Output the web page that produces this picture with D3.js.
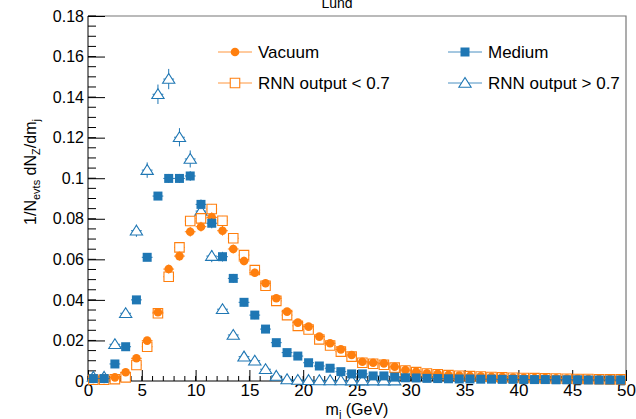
<!DOCTYPE html>
<html>
  <head>
    <script src="https://d3js.org/d3.v7.min.js"></script>
    <style>
      body { margin: 0; background: #fff; }
      text { font-family: "Liberation Sans", Arial, Helvetica, sans-serif; }
    </style>
  </head>
  <body>
    <svg id="chart" width="636" height="419"></svg>

    <script>
      // bin centres of m_j in GeV (1 GeV bins)
      const binCentres = [0.5, 1.5, 2.5, 3.5, 4.5, 5.5, 6.5, 7.5, 8.5, 9.5,
        10.5, 11.5, 12.5, 13.5, 14.5, 15.5, 16.5, 17.5, 18.5, 19.5,
        20.5, 21.5, 22.5, 23.5, 24.5, 25.5, 26.5, 27.5, 28.5, 29.5,
        30.5, 31.5, 32.5, 33.5, 34.5, 35.5, 36.5, 37.5, 38.5, 39.5,
        40.5, 41.5, 42.5, 43.5, 44.5, 45.5, 46.5, 47.5, 48.5, 49.5];

      const vacuum = [0.001, 0.001, 0.0018, 0.0043, 0.0112, 0.0199, 0.0339, 0.0552, 0.0616, 0.0736,
        0.0761, 0.0807, 0.0741, 0.0651, 0.0592, 0.0534, 0.0482, 0.0408, 0.0342, 0.0288,
        0.0268, 0.0219, 0.0186, 0.0156, 0.0128, 0.0095, 0.009, 0.0087, 0.007, 0.0054,
        0.0046, 0.0038, 0.0035, 0.003, 0.0027, 0.0025, 0.0023, 0.0021, 0.0019, 0.0017,
        0.0016, 0.0015, 0.0014, 0.0013, 0.0012, 0.0011, 0.001, 0.001, 0.0009, 0.0008];

      const medium = [0.0012, 0.0012, 0.0084, 0.0169, 0.040, 0.061, 0.0912, 0.0999, 0.0999, 0.1011,
        0.0871, 0.0778, 0.0613, 0.0506, 0.0388, 0.0325, 0.0256, 0.0189, 0.014, 0.0123,
        0.009, 0.0074, 0.0063, 0.0046, 0.0035, 0.0035, 0.0025, 0.0025, 0.0019, 0.0016,
        0.0015, 0.0013, 0.0012, 0.0011, 0.001, 0.001, 0.0009, 0.0009, 0.0008, 0.0008,
        0.0007, 0.0007, 0.0007, 0.0006, 0.0006, 0.0006, 0.0005, 0.0005, 0.0005, 0.0005];

      const rnnLow = [0.0006, 0.0006, 0.0009, 0.0018, 0.0079, 0.0169, 0.0334, 0.0514, 0.0659, 0.0789,
        0.0802, 0.0848, 0.079, 0.0704, 0.0621, 0.0547, 0.047, 0.0395, 0.0325, 0.0272,
        0.0254, 0.0205, 0.0175, 0.0145, 0.012, 0.009, 0.0085, 0.008, 0.0066, 0.0052,
        0.0044, 0.0037, 0.0033, 0.0029, 0.0026, 0.0024, 0.0022, 0.002, 0.0018, 0.0016,
        0.0015, 0.0014, 0.0013, 0.0012, 0.0011, 0.001, 0.001, 0.0009, 0.0008, 0.0008];

      const rnnHigh = [0.002, 0.002, 0.0181, 0.0334, 0.0741, 0.104, 0.1414, 0.1489, 0.1202, 0.1095,
        0.0838, 0.0616, 0.0354, 0.0227, 0.012, 0.01, 0.0058, 0.0025, 0.0008, 0.0005,
        0.0004, 0.0003, 0.0003, 0.0003, 0.0002, 0.0002, 0.0002, 0.0002, 0.0002, 0,
        0, 0, 0, 0, 0, 0, 0, 0, 0, 0,
        0, 0, 0, 0, 0, 0, 0, 0, 0, 0];

      // statistical errors (half heights)
      const vacuumErr = [0.0004, 0.0004, 0.0006, 0.0008, 0.0012, 0.0015, 0.0018, 0.0022, 0.0022, 0.0024,
        0.0024, 0.0025, 0.0024, 0.0022, 0.0021, 0.002, 0.0019, 0.0018, 0.0016, 0.0015,
        0.0014, 0.0013, 0.0012, 0.0011, 0.001, 0.0009, 0.0009, 0.0008, 0.0008, 0.0007,
        0.0007, 0.0006, 0.0006, 0.0006, 0.0005, 0.0005, 0.0005, 0.0005, 0.0004, 0.0004,
        0.0004, 0.0004, 0.0004, 0.0003, 0.0003, 0.0003, 0.0003, 0.0003, 0.0003, 0.0003];
      const mediumErr = vacuumErr;
      const rnnLowErr = vacuumErr;
      const rnnHighErr = [0.0015, 0.0015, 0.002, 0.0022, 0.003, 0.0038, 0.0048, 0.005, 0.0045, 0.0042,
        0.0038, 0.003, 0.0022, 0.0018, 0.0014, 0.0013, 0.001, 0.0007, 0.0004, 0.0003,
        0.0003, 0.0003, 0.0003, 0.0003, 0.0002, 0.0002, 0.0002, 0.0002, 0.0002, 0,
        0, 0, 0, 0, 0, 0, 0, 0, 0, 0,
        0, 0, 0, 0, 0, 0, 0, 0, 0, 0];

      const xTicks = [0, 5, 10, 15, 20, 25, 30, 35, 40, 45, 50];
      const yTicks = [0, 0.02, 0.04, 0.06, 0.08, 0.1, 0.12, 0.14, 0.16, 0.18];
      const yTickLabels = ["0", "0.02", "0.04", "0.06", "0.08", "0.1", "0.12", "0.14", "0.16", "0.18"];

      const orange = "#ff7f0e";
      const blue = "#1f77b4";

      var svg = d3.select("#chart");
      var padL = 88, padR = 626, padT = 16, padB = 381;

      var x = d3.scaleLinear().domain([0, 50]).range([padL, padR]);
      var y = d3.scaleLinear().domain([0, 0.18]).range([padB, padT]);

      // frame (top + right, grey)
      svg.append("path")
        .attr("d", "M" + padL + "," + padT + "H" + padR + "V" + padB)
        .attr("fill", "none")
        .attr("stroke", "#777")
        .attr("stroke-width", 1.2);

      // y axis, ticks pointing in
      var yAxis = d3.axisLeft(y)
        .tickValues(yTicks)
        .tickSize(-17)
        .tickFormat(function(d, i) { return yTickLabels[i]; });
      var gy = svg.append("g").attr("transform", "translate(" + padL + ",0)").call(yAxis);
      gy.selectAll("text").attr("x", -4).attr("font-size", 16).attr("fill", "#000")
        .style("font-family", "'Liberation Sans', Arial, sans-serif");
      gy.selectAll("line").attr("stroke", "#000");
      gy.select(".domain").attr("stroke", "#000").attr("d", "M0," + padT + "V" + padB);

      var yMinor = d3.range(0, 0.1801, 0.005);
      svg.append("g").selectAll("line").data(yMinor).enter().append("line")
        .attr("x1", padL).attr("x2", padL + 8)
        .attr("y1", function(d) { return y(d); }).attr("y2", function(d) { return y(d); })
        .attr("stroke", "#000");

      // x axis
      var xAxis = d3.axisBottom(x).tickValues(xTicks).tickSize(-11).tickFormat(d3.format("d"));
      var gx = svg.append("g").attr("transform", "translate(0," + padB + ")").call(xAxis);
      gx.selectAll("text").attr("y", 3).attr("dy", "0.71em").attr("font-size", 17).attr("fill", "#000")
        .style("font-family", "'Liberation Sans', Arial, sans-serif");
      gx.selectAll("line").attr("stroke", "#000");
      gx.select(".domain").attr("stroke", "#000").attr("d", "M" + padL + ",0H" + padR);

      var xMinor = d3.range(0, 51, 1);
      svg.append("g").selectAll("line").data(xMinor).enter().append("line")
        .attr("x1", function(d) { return x(d); }).attr("x2", function(d) { return x(d); })
        .attr("y1", padB).attr("y2", padB - 5)
        .attr("stroke", "#000");

      // axis titles
      svg.append("text")
        .attr("x", (padL + padR) / 2).attr("y", 415)
        .attr("text-anchor", "middle").attr("font-size", 16)
        .html('m<tspan font-size="11" dy="3">j</tspan><tspan dy="-3"> (GeV)</tspan>');

      svg.append("text")
        .attr("transform", "translate(36,172) rotate(-90)")
        .attr("text-anchor", "middle").attr("font-size", 16)
        .html('1/N<tspan font-size="11" dy="4">evts</tspan><tspan dy="-4"> dN</tspan>' +
              '<tspan font-size="11" dy="4">Z</tspan><tspan dy="-4">/dm</tspan>' +
              '<tspan font-size="11" dy="4">j</tspan>');

      // title (clipped by the top edge, as in the original)
      svg.append("text")
        .attr("x", 337).attr("y", 8)
        .attr("text-anchor", "middle").attr("font-size", 14)
        .text("Lund");

      // marker shapes
      var sqr = d3.symbol().type(d3.symbolSquare).size(81);
      var sqrOpen = d3.symbol().type(d3.symbolSquare).size(90);
      var tri = d3.symbol().type(d3.symbolTriangle).size(42);

      var series = [
        { name: "RNN output > 0.7", vals: rnnHigh, err: rnnHighErr, color: blue, kind: "tri" },
        { name: "RNN output < 0.7", vals: rnnLow, err: rnnLowErr, color: orange, kind: "osq" },
        { name: "Vacuum", vals: vacuum, err: vacuumErr, color: orange, kind: "circ" },
        { name: "Medium", vals: medium, err: mediumErr, color: blue, kind: "sq" }
      ];

      function drawMarker(g, kind, color) {
        if (kind == "circ") {
          g.append("circle").attr("r", 4.3).attr("fill", color);
        } else if (kind == "sq") {
          g.append("path").attr("d", sqr).attr("fill", color);
        } else if (kind == "osq") {
          g.append("path").attr("d", sqrOpen).attr("fill", "#fff").attr("stroke", color).attr("stroke-width", 1.1);
        } else {
          g.append("path").attr("d", tri).attr("transform", "translate(0,1) scale(1.25,1.15)")
            .attr("fill", "#fff").attr("stroke", color).attr("stroke-width", 0.9);
        }
      }

      var bw = x(1) - x(0);
      series.forEach(function(s) {
        var pts = binCentres.map(function(c, i) { return { c: c, v: s.vals[i], e: s.err[i] }; })
          .filter(function(p) { return p.v > 0; });
        var g = svg.append("g");
        // error bars
        g.selectAll(".eh").data(pts).enter().append("line")
          .attr("x1", function(d) { return x(d.c) - bw / 2; })
          .attr("x2", function(d) { return x(d.c) + bw / 2; })
          .attr("y1", function(d) { return y(d.v); }).attr("y2", function(d) { return y(d.v); })
          .attr("stroke", s.color).attr("stroke-width", 1);
        g.selectAll(".ev").data(pts).enter().append("line")
          .attr("x1", function(d) { return x(d.c); }).attr("x2", function(d) { return x(d.c); })
          .attr("y1", function(d) { return y(d.v - d.e); }).attr("y2", function(d) { return y(d.v + d.e); })
          .attr("stroke", s.color).attr("stroke-width", 1);
        g.selectAll(".m").data(pts).enter().append("g")
          .attr("transform", function(d) { return "translate(" + x(d.c) + "," + y(d.v) + ")"; })
          .each(function() { drawMarker(d3.select(this), s.kind, s.color); });
      });

      // legend
      var legendItems = [
        { name: "Vacuum", color: orange, kind: "circ", lx: 218, ly: 52 },
        { name: "RNN output < 0.7", color: orange, kind: "osq", lx: 218, ly: 83 },
        { name: "Medium", color: blue, kind: "sq", lx: 448, ly: 52 },
        { name: "RNN output > 0.7", color: blue, kind: "tri", lx: 448, ly: 83 }
      ];
      legendItems.forEach(function(l) {
        var g = svg.append("g").attr("transform", "translate(" + l.lx + "," + l.ly + ")");
        g.append("line").attr("x1", 0).attr("x2", 34).attr("stroke", l.color).attr("stroke-width", 1)
          .attr("opacity", 0.8);
        var m = g.append("g").attr("transform", "translate(17,0)");
        drawMarker(m, l.kind, l.color);
        g.append("text").attr("x", 40).attr("y", 6).attr("font-size", 17).text(l.name);
      });
    </script>
  </body>
</html>
